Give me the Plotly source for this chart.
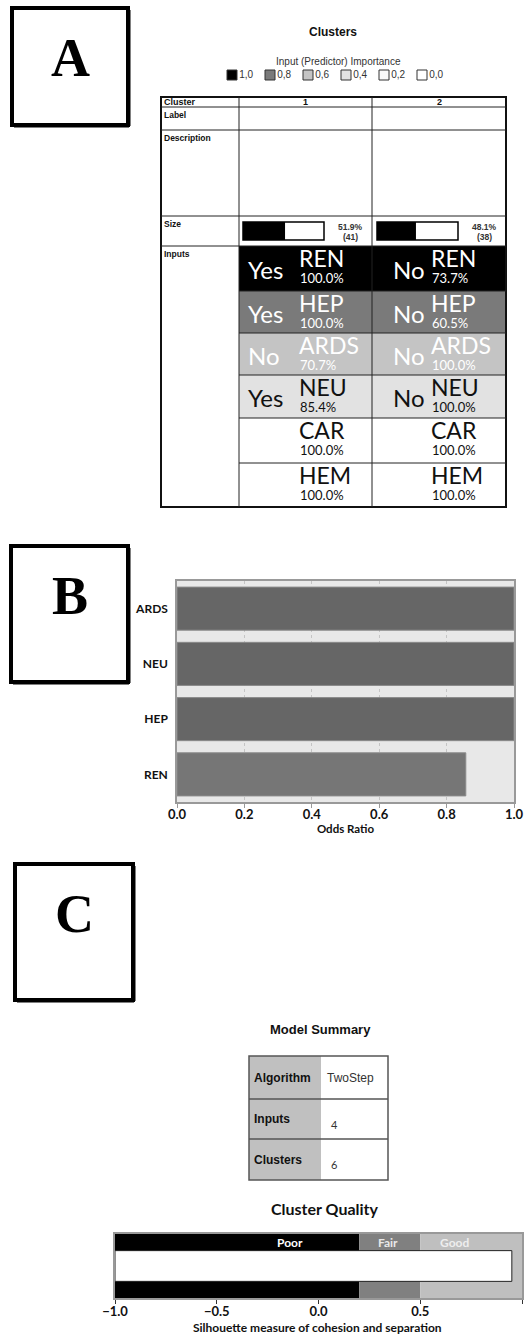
"""
Cluster analysis figure - panels A (cluster profile), B (odds ratios), C (model summary / quality)
"""

import plotly.graph_objects as go

W, H = 528, 1334

# ---- data ----
cluster_ids = ['1', '2']
cluster_size_pct = [51.9, 48.1]
cluster_size_n = [41, 38]
inputs = ['REN', 'HEP', 'ARDS', 'NEU', 'CAR', 'HEM']
importance = [1.0, 0.8, 0.6, 0.4, 0.0, 0.0]
c1_mode = ['Yes', 'Yes', 'No', 'Yes', '', '']
c1_pct = [100.0, 100.0, 70.7, 85.4, 100.0, 100.0]
c2_mode = ['No', 'No', 'No', 'No', '', '']
c2_pct = [73.7, 60.5, 100.0, 100.0, 100.0, 100.0]
legend_levels = [1.0, 0.8, 0.6, 0.4, 0.2, 0.0]

odds_vars = ['ARDS', 'NEU', 'HEP', 'REN']
odds_ratio = [1.0, 1.0, 1.0, 0.857]

summary_labels = ['Algorithm', 'Inputs', 'Clusters']
summary_values = ['TwoStep', '4', '6']

quality_edges = [-1.0, 0.2, 0.5, 1.0]
quality_labels = ['Poor', 'Fair', 'Good']
silhouette = 0.95

# ---- layout constants (page pixels) ----
SANS = 'Liberation Sans, Arial, sans-serif'
CAL = 'Lato, Calibri, sans-serif'
SERIF = 'Liberation Serif, Times New Roman, serif'
IMP_SCALE = [[0, '#ffffff'], [0.2, '#fafafa'], [0.4, '#e2e2e2'], [0.6, '#c4c4c4'], [0.8, '#7a7a7a'], [1.0, '#000000']]

A_COLS = [161, 239, 372, 506]
A_ROWS = [97, 107, 130, 216, 246, 291, 333, 375, 418, 463, 507]
MS_COLS = [249, 321, 388]
MS_ROWS = [1056, 1099, 1139, 1180]

fig = go.Figure()


def note(x, y, text, size, color='#111', family=SANS, bold=False, xanchor='center', yanchor='middle', xref='x', yref='y'):
    fig.add_annotation(x=x, y=y, xref=xref, yref=yref, text=f'<b>{text}</b>' if bold else text, showarrow=False,
                       xanchor=xanchor, yanchor=yanchor, borderpad=0, font=dict(family=family, size=size, color=color))


def line(x0, y0, x1, y1, color='#222', width=1):
    fig.add_shape(type='line', xref='x', yref='y', x0=x0, y0=y0, x1=x1, y1=y1, line=dict(color=color, width=width))


# ---- letter boxes ----
for letter, (x0, y0, x1, y1) in zip('ABC', [(12, 8, 128, 125), (11, 546, 128, 682), (15, 864, 133, 1000)]):
    fig.add_shape(type='rect', xref='x', yref='y', x0=x0, y0=y0, x1=x1, y1=y1, line=dict(color='black', width=4), fillcolor='white')
    line(x1 + 1, y0 + 2, x1 + 1, y1 + 1, color='black', width=3)
    line(x0 + 2, y1 + 1, x1 + 1, y1 + 1, color='black', width=3)
    note((x0 + x1) / 2, y0 + 50, letter, 54, color='black', family=SERIF, bold=True)

# ---- panel A: cluster table ----
note(333, 32, 'Clusters', 12, bold=True)
note(338, 61, 'Input (Predictor) Importance', 10, color='#333')
lx = [232 + 38 * i for i in range(len(legend_levels))]
fig.add_trace(go.Scatter(
    x=lx, y=[75] * len(legend_levels), mode='markers+text',
    marker=dict(symbol='square', size=10, color=legend_levels, colorscale=IMP_SCALE, cmin=0, cmax=1,
                line=dict(color='#333', width=1)),
    text=[f'{v:.1f}'.replace('.', ',') for v in legend_levels], textposition='middle right',
    textfont=dict(family=SANS, size=10, color='#333'), hoverinfo='skip', showlegend=False))

fig.add_trace(go.Heatmap(
    x=A_COLS[1:], y=A_ROWS[4:], z=[[v, v] for v in importance], colorscale=IMP_SCALE, zmin=0, zmax=1,
    showscale=False, hoverinfo='skip'))

# size bars
size_mid = (A_ROWS[3] + A_ROWS[4]) / 2
box_x0, box_w = [243, 377], 81
fig.add_trace(go.Bar(
    y=[size_mid] * 2, x=[p / 100 * box_w for p in cluster_size_pct], base=box_x0, orientation='h', width=18,
    marker=dict(color='black', line=dict(width=0)), hoverinfo='skip', showlegend=False))
for bx, p, n in zip(box_x0, cluster_size_pct, cluster_size_n):
    fig.add_shape(type='rect', xref='x', yref='y', x0=bx, x1=bx + box_w, y0=size_mid - 9, y1=size_mid + 9,
                  line=dict(color='black', width=1.5))
    note(bx + box_w + 26, size_mid - 4, f'{p:.1f}%', 8.5, color='#333', bold=True)
    note(bx + box_w + 26, size_mid + 6, f'({n})', 8.5, color='#333', bold=True)

# grid
fig.add_shape(type='rect', xref='x', yref='y', x0=A_COLS[0], x1=A_COLS[-1], y0=A_ROWS[0], y1=A_ROWS[-1],
              line=dict(color='#111', width=2))
for xv in A_COLS[1:-1]:
    line(xv, A_ROWS[0], xv, A_ROWS[-1])
for yv in A_ROWS[1:5]:
    line(A_COLS[0], yv, A_COLS[-1], yv)
for yv in A_ROWS[5:-1]:
    line(A_COLS[1], yv, A_COLS[-1], yv)

# header / row labels
note(A_COLS[0] + 2, (A_ROWS[0] + A_ROWS[1]) / 2, 'Cluster', 9, bold=True, xanchor='left')
for j, cid in enumerate(cluster_ids):
    note((A_COLS[j + 1] + A_COLS[j + 2]) / 2, (A_ROWS[0] + A_ROWS[1]) / 2, cid, 9, bold=True)
for r, lab in zip([1, 2, 3, 4], ['Label', 'Description', 'Size', 'Inputs']):
    note(A_COLS[0] + 2, A_ROWS[r] + 8, lab, 8.5, bold=True, xanchor='left')

# input cells
for i, name in enumerate(inputs):
    top, bot = A_ROWS[4 + i], A_ROWS[5 + i]
    col = 'white' if importance[i] >= 0.6 else '#111'
    for mode, pct, xm, xn in [(c1_mode[i], c1_pct[i], 247, 298), (c2_mode[i], c2_pct[i], 392, 430)]:
        if mode:
            note(xm, (top + bot) / 2 + 1, mode, 24, color=col, family=CAL, xanchor='left')
        note(xn, top + 12, name, 23, color=col, family=CAL, xanchor='left')
        note(xn + 1, top + 32, f'{pct:.1f}%', 13, color=col, family=CAL, xanchor='left')

# ---- panel B: odds ratio bars ----
fig.add_shape(type='rect', xref='x2 domain', yref='y2 domain', x0=0, x1=1, y0=0, y1=1,
              fillcolor='#e8e8e8', line=dict(width=0), layer='below')
fig.add_trace(go.Bar(
    x=odds_ratio, y=odds_vars, orientation='h', xaxis='x2', yaxis='y2', width=0.78,
    marker=dict(color=['#666666' if v >= 1 else '#767676' for v in odds_ratio], line=dict(color='#8a8a8a', width=1)),
    hovertemplate='%{y}: %{x:.3f}<extra></extra>', showlegend=False))

# ---- panel C: model summary ----
note(320, 1029, 'Model Summary', 13, bold=True)
fig.add_trace(go.Heatmap(
    x=MS_COLS, y=MS_ROWS, z=[[1, 0] for _ in summary_labels], colorscale=[[0, '#ffffff'], [1, '#c0c0c0']],
    zmin=0, zmax=1, showscale=False, hoverinfo='skip'))
fig.add_shape(type='rect', xref='x', yref='y', x0=MS_COLS[0], x1=MS_COLS[-1], y0=MS_ROWS[0], y1=MS_ROWS[-1],
              line=dict(color='#555', width=1.5))
for yv in MS_ROWS[1:-1]:
    line(MS_COLS[0], yv, MS_COLS[-1], yv, color='#555', width=1.5)
for k, (lab, val) in enumerate(zip(summary_labels, summary_values)):
    mid = (MS_ROWS[k] + MS_ROWS[k + 1]) / 2
    note(MS_COLS[0] + 4, mid, lab, 12, bold=True, xanchor='left')
    if k == 0:
        note(MS_COLS[1] + 5, mid, val, 12, color='#333', xanchor='left')
    else:
        note(MS_COLS[1] + 9, mid + 5, val, 11, color='#333', family=CAL, xanchor='left')

# ---- cluster quality ----
note(325, 1208, 'Cluster Quality', 16, family=CAL, bold=True)
fig.add_trace(go.Bar(
    y=[0] * 3, base=quality_edges[:-1], x=[b - a for a, b in zip(quality_edges[:-1], quality_edges[1:])],
    orientation='h', width=1, xaxis='x3', yaxis='y3', marker=dict(color=['#000000', '#808080', '#bfbfbf'], line=dict(width=0)),
    hoverinfo='skip', showlegend=False))
fig.add_trace(go.Bar(
    y=[0], base=[quality_edges[0]], x=[silhouette - quality_edges[0]], orientation='h', width=0.48,
    xaxis='x3', yaxis='y3', marker=dict(color='white', line=dict(color='#222', width=1)),
    hovertemplate='Silhouette: %{x:.2f}<extra></extra>', showlegend=False))
for lab, xv, c in zip(quality_labels, [-0.14, 0.34, 0.67], ['white', '#e8e8e8', '#eeeeee']):
    note(xv, 0.36, lab, 12, color=c, family=CAL, bold=True, xref='x3', yref='y3')
note(317, 1327, 'Silhouette measure of cohesion and separation', 12, family=CAL, bold=True)

tick_font = dict(family=CAL, size=13, color='#111', weight='bold')
fig.update_layout(
    width=W, height=H, margin=dict(l=0, r=0, t=0, b=0, autoexpand=False), paper_bgcolor='white',
    plot_bgcolor='rgba(0,0,0,0)', showlegend=False, barmode='overlay',
    xaxis=dict(domain=[0, 1], range=[0, W], visible=False, fixedrange=True, automargin=False),
    yaxis=dict(domain=[0, 1], range=[H, 0], visible=False, fixedrange=True, automargin=False),
    xaxis2=dict(domain=[177 / W, 514 / W], range=[0, 1], tickvals=[0, 0.2, 0.4, 0.6, 0.8, 1.0], tickformat='.1f',
                showgrid=True, gridcolor='#c4c4c4', griddash='dot', zeroline=False, showline=True, linecolor='#999',
                mirror=True, linewidth=1.5, ticks='outside', ticklen=4, tickcolor='#999', tickfont=tick_font,
                ticklabelstandoff=-4,
                title=dict(text='<b>Odds Ratio</b>', font=dict(family=CAL, size=11.5, color='#111'), standoff=4),
                anchor='y2', fixedrange=True, automargin=False),
    yaxis2=dict(domain=[1 - 802 / H, 1 - 581 / H], autorange='reversed', showgrid=False, zeroline=False,
                showline=True, linecolor='#999', mirror=True, linewidth=1.5, ticks='', ticklabelstandoff=5,
                tickfont=dict(family=CAL, size=12, color='#111', weight='bold'), anchor='x2', fixedrange=True,
                automargin=False),
    xaxis3=dict(domain=[115 / W, 522 / W], range=[-1, 1], tickvals=[-1, -0.5, 0, 0.5, 1], tickformat='.1f',
                showgrid=False, zeroline=False, showline=True, linecolor='#999', mirror=True, linewidth=1.5,
                ticks='outside', ticklen=4, tickcolor='#333', tickfont=tick_font, ticklabelstandoff=-3,
                anchor='y3', fixedrange=True, automargin=False),
    yaxis3=dict(domain=[1 - 1298 / H, 1 - 1234 / H], range=[-0.5, 0.5], showgrid=False, zeroline=False,
                showticklabels=False, showline=True, linecolor='#999', mirror=True, linewidth=1.5,
                anchor='x3', fixedrange=True, automargin=False),
)

fig.write_html("out.html", config={'displayModeBar': False}, post_script="document.body.style.margin = '0';")
